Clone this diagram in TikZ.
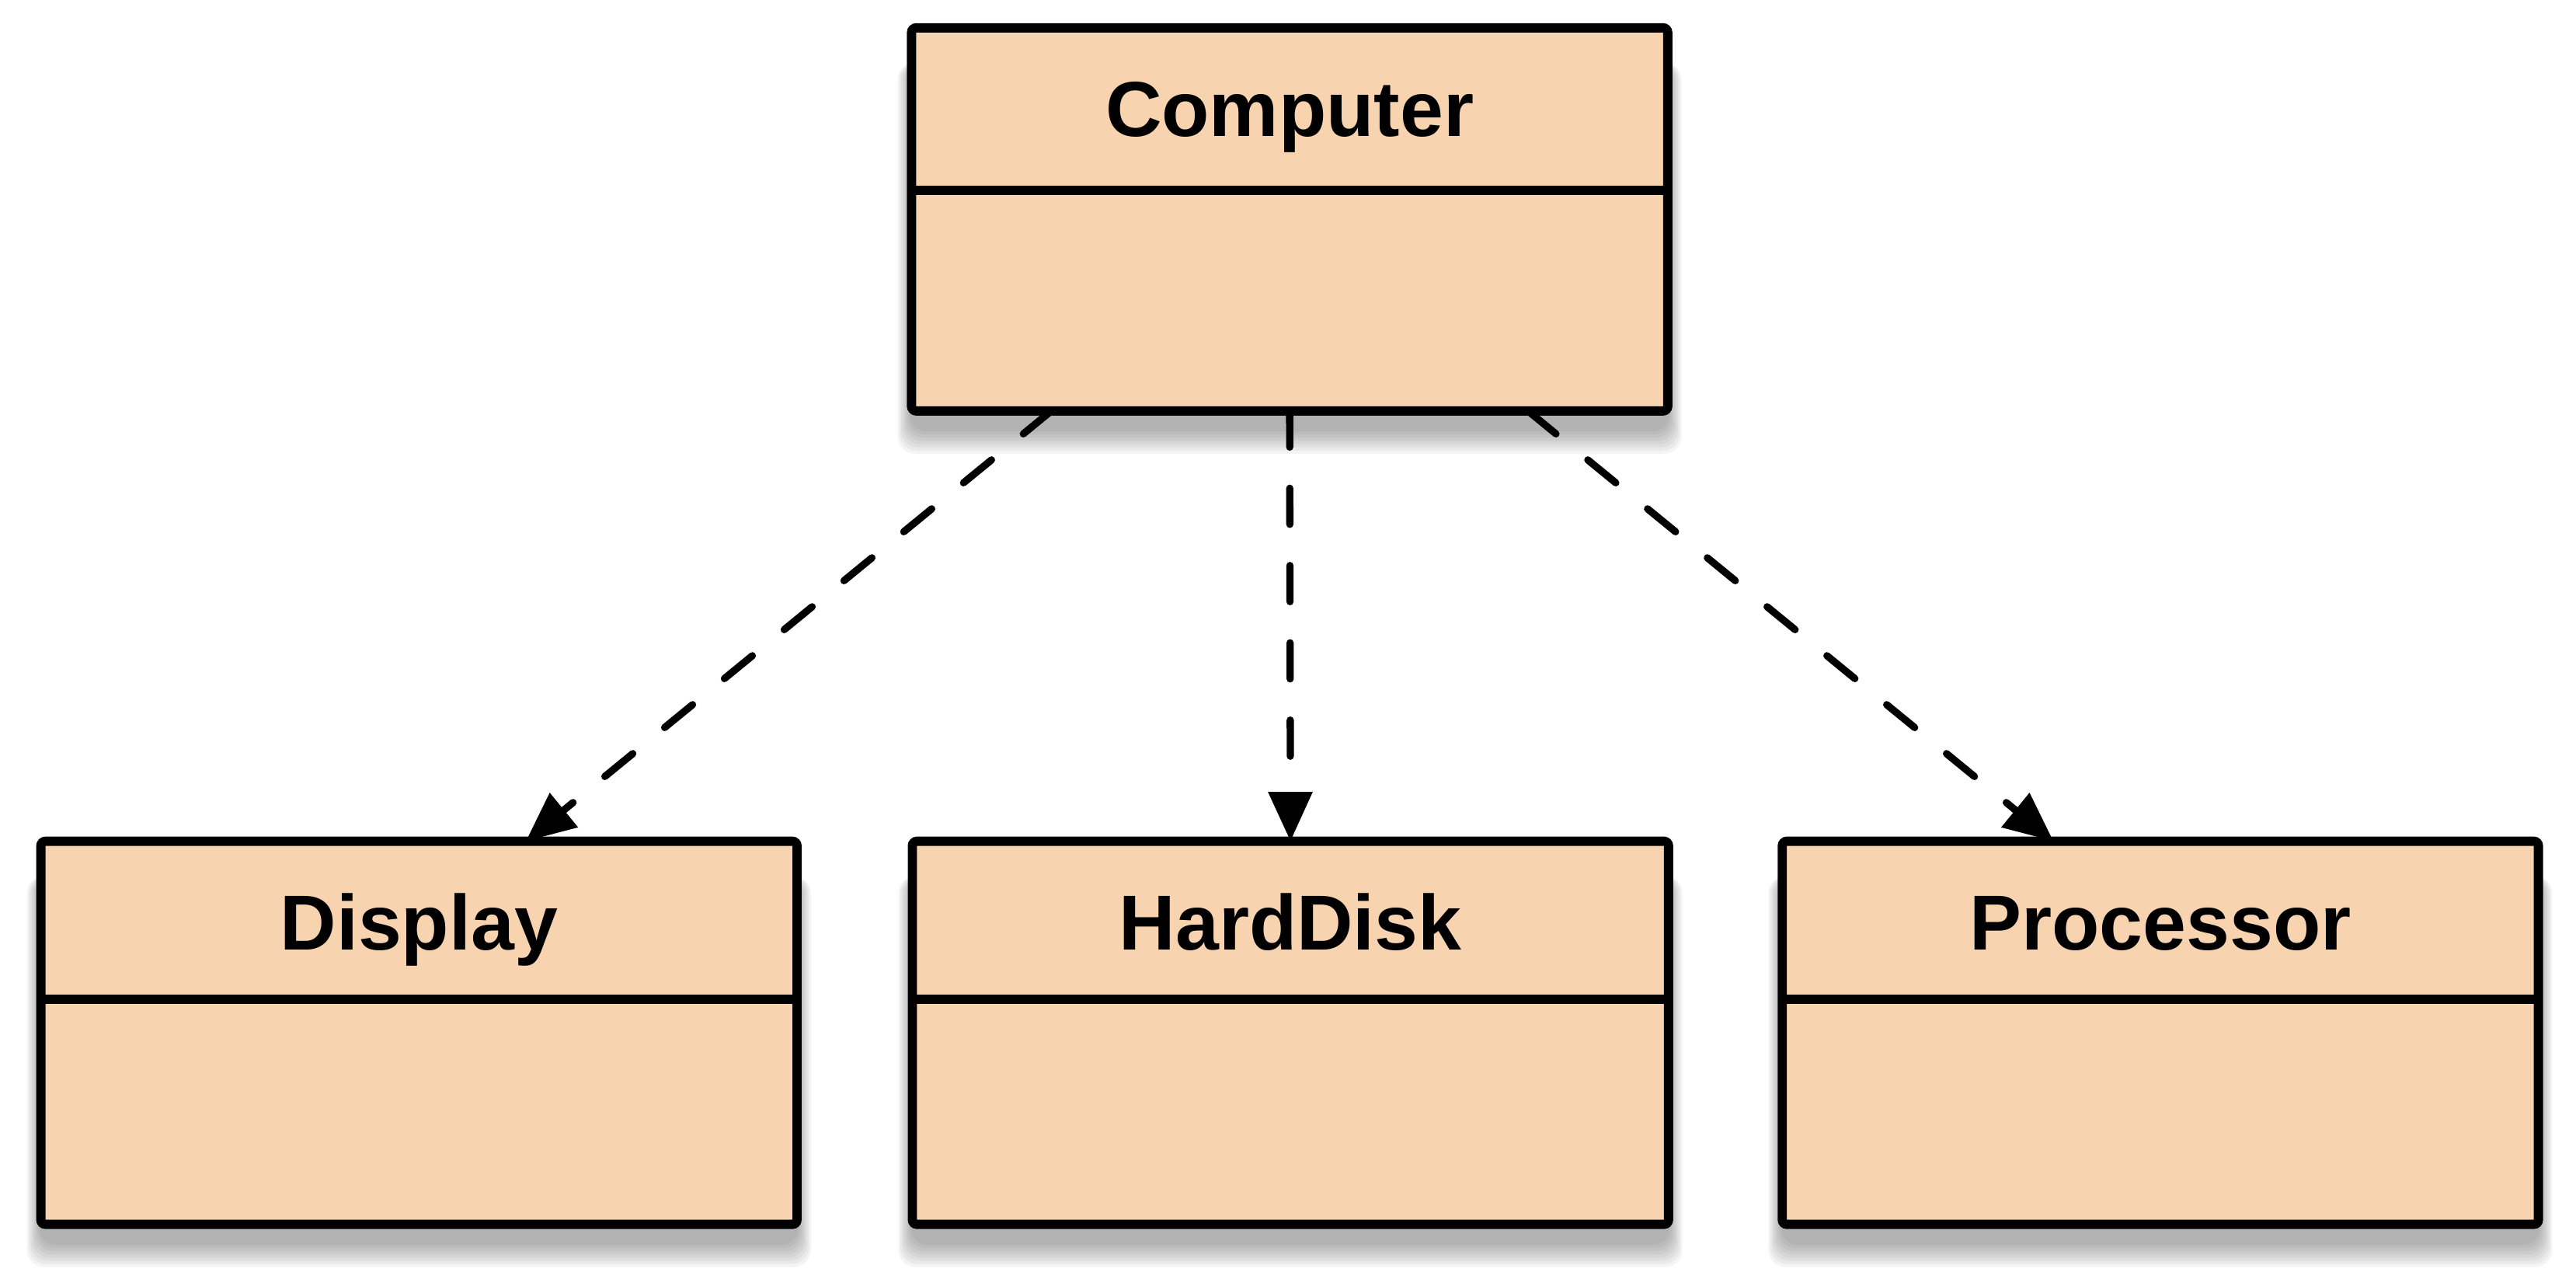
\documentclass[tikz,border=0pt]{standalone}
\usepackage{fontspec}
\setmainfont{Liberation Sans}
\usetikzlibrary{arrows.meta,backgrounds}
\definecolor{peach}{RGB}{248,211,175}
\tikzset{
  classbox/.style={draw=black, fill=peach, line width=1.6pt, rounded corners=0.8pt,
    minimum width=4.6cm, minimum height=2.33cm, inner sep=0pt, outer sep=0pt},
  classname/.style={font=\fontsize{13.5}{16}\selectfont\bfseries, anchor=base, inner sep=0pt},
  divider/.style={line width=1.6pt},
  dep/.style={line width=1.25pt, dash pattern=on 0.22cm off 0.25cm, line cap=round,
    -{Triangle[length=0.3cm,width=0.26cm,line cap=butt]}},
}
\begin{document}
\begin{tikzpicture}[x=0.01cm,y=-0.01cm]
\useasboundingbox (0,0) rectangle (1568,778);
% boxes
\node[classbox] (comp) at (785,133.5) {};
\node[classbox] (disp) at (255,628.5) {};
\node[classbox] (hd)   at (785.5,628.5) {};
\node[classbox] (proc) at (1315,628.5) {};
% dividers
\draw[divider] ([yshift=-0.99cm]comp.north west) coordinate (cdl) -- ([yshift=-0.99cm]comp.north east) coordinate (cdr);
\draw[divider] ([yshift=-0.96cm]disp.north west) coordinate (ddl) -- ([yshift=-0.96cm]disp.north east) coordinate (ddr);
\draw[divider] ([yshift=-0.96cm]hd.north west) coordinate (hdl) -- ([yshift=-0.96cm]hd.north east) coordinate (hdr);
\draw[divider] ([yshift=-0.96cm]proc.north west) coordinate (pdl) -- ([yshift=-0.96cm]proc.north east) coordinate (pdr);
% names
\node[classname] (tcomp) at ([yshift=-0.66cm]comp.north) {Computer};
\node[classname] (tdisp) at ([yshift=-0.66cm]disp.north) {Display};
\node[classname] (thd)   at ([yshift=-0.66cm]hd.north) {HardDisk};
\node[classname] (tproc) at ([yshift=-0.66cm]proc.north) {Processor};
% shadows
\begin{scope}[on background layer]
\foreach \n in {comp,disp,hd,proc}{
  \foreach \i in {0,...,7}{
    \fill[black, opacity=0.045, rounded corners=3pt]
      ([xshift=-{(8-\i)*0.3pt}, yshift={-3pt-(8-\i)*0.55pt}]\n.south west)
      rectangle ([xshift={(8-\i)*0.3pt}, yshift={-6pt}]\n.north east);
  }
}
\end{scope}
% connectors
\draw[dep] ([xshift=-1.45cm]comp.south) -- ([xshift=0.65cm]disp.north);
\draw[dep] (comp.south) -- (hd.north);
\draw[dep] ([xshift=1.45cm]comp.south) -- ([xshift=-0.65cm]proc.north);
\end{tikzpicture}
\end{document}
